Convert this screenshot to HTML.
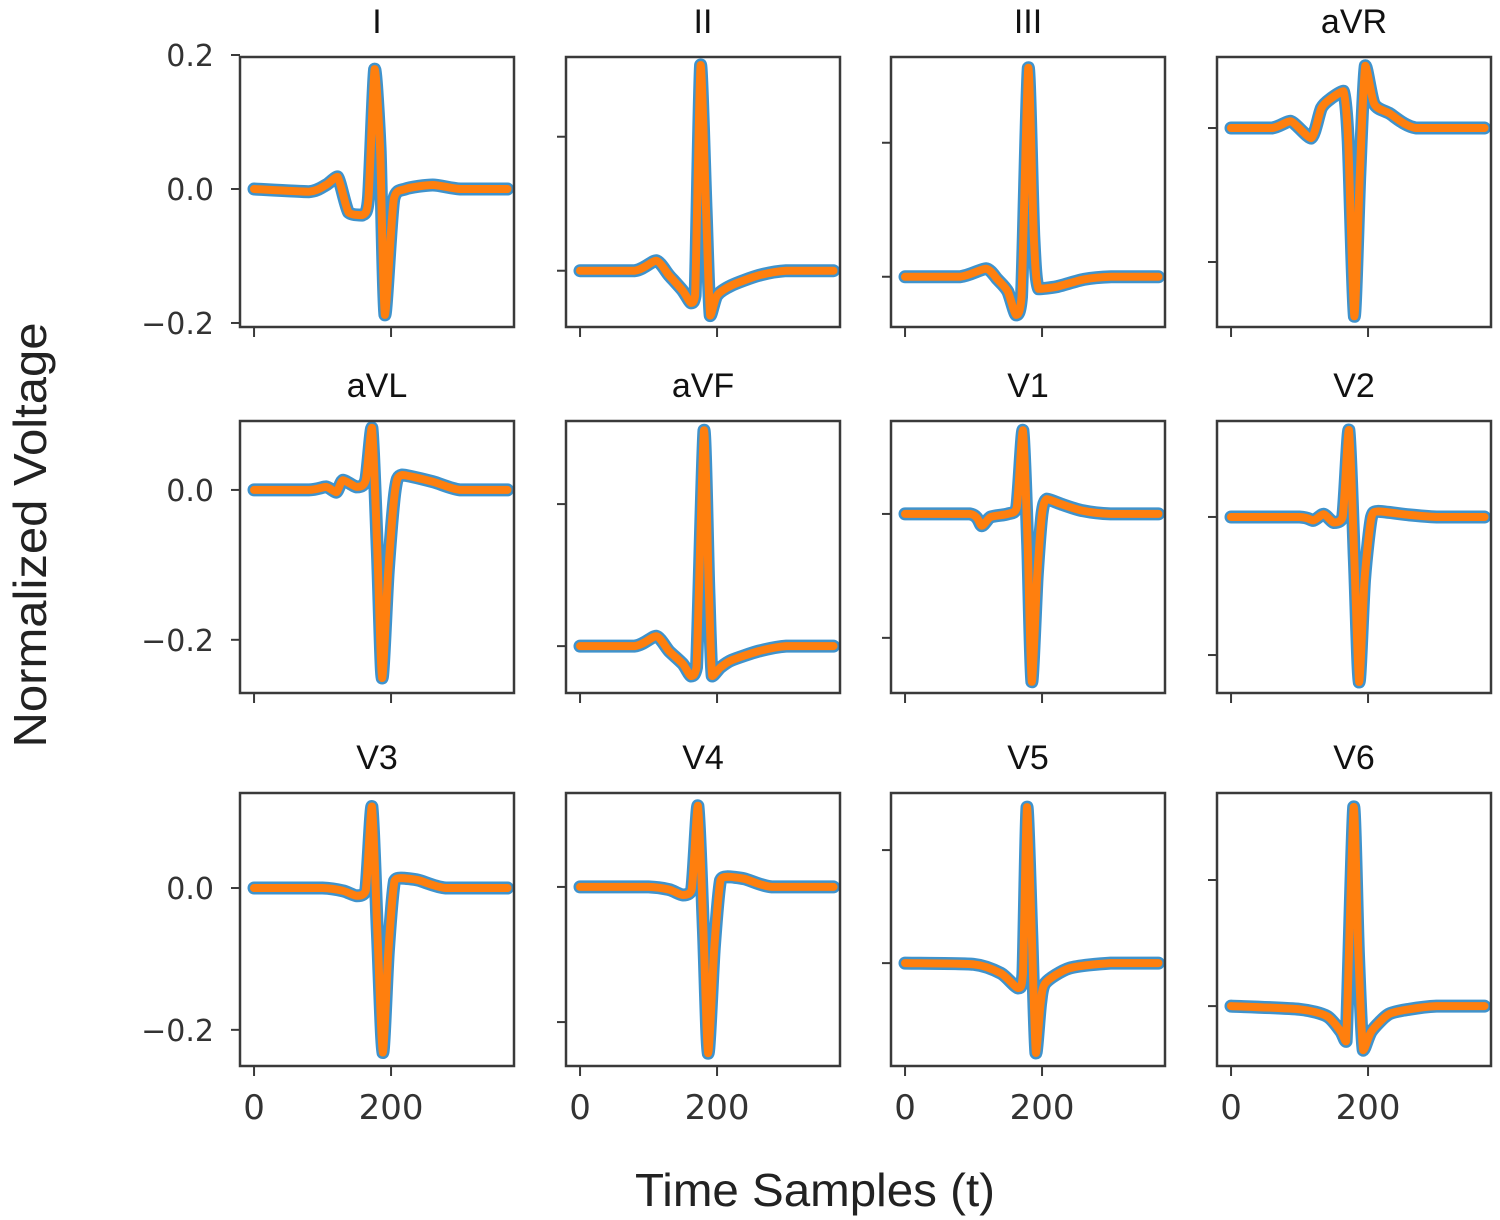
<!DOCTYPE html>
<html><head><meta charset="utf-8"><style>
html,body{margin:0;padding:0;background:#fff;}
svg{display:block;font-family:"DejaVu Sans","Liberation Sans",sans-serif;}
</style></head><body>
<svg id="chart" width="1500" height="1220" viewBox="0 0 1500 1220" xmlns="http://www.w3.org/2000/svg">
<text x="0" y="0" transform="translate(46,535) rotate(-90)" text-anchor="middle" font-size="46" fill="#222" font-family="Liberation Sans, sans-serif" textLength="425" lengthAdjust="spacingAndGlyphs">Normalized Voltage</text>
<text x="815" y="1206" text-anchor="middle" font-size="46" fill="#222" font-family="Liberation Sans, sans-serif" textLength="360" lengthAdjust="spacingAndGlyphs">Time Samples (t)</text>
</svg>
<script>
const leadNames = ["I","II","III","aVR","aVL","aVF","V1","V2","V3","V4","V5","V6"];
const xTicks = [0, 200];
const leadTimes = [
 [0,80,105,122,138,158,167,176,184,191,204,221,261,301,370],
 [0,80,111,130,150,162,168,176,184,190,200,221,261,301,370],
 [0,80,118,135,150,162,170,180,188,195,221,261,301,370],
 [0,60,87,117,132,147,164,171,180,188,196,209,231,270,370],
 [0,80,105,120,130,150,163,172,180,187,196,206,216,261,301,370],
 [0,80,111,130,150,162,170,181,188,193,205,221,261,301,370],
 [0,95,112,125,150,163,172,179,185,193,200,207,230,260,300,370],
 [0,100,120,135,150,163,172,180,187,195,205,215,260,300,370],
 [0,100,130,150,163,172,180,188,196,205,215,240,280,370],
 [0,100,130,150,163,172,180,187,196,205,215,240,280,370],
 [0,100,140,165,172,178,185,191,198,205,240,300,370],
 [0,100,140,160,168,179,186,193,205,230,260,300,370]
];
const leadValues = [
 [0,-0.004,0.006,0.018,-0.035,-0.039,-0.015,0.179,0.06,-0.188,-0.015,0,0.006,0,0],
 [0,0,0.015,-0.007,-0.03,-0.048,-0.037,0.307,0.09,-0.067,-0.037,-0.022,-0.007,0,0],
 [0,0,0.012,-0.004,-0.022,-0.057,-0.03,0.312,0.06,-0.018,-0.015,-0.004,0,0],
 [0,0,0.01,-0.015,0.03,0.045,0.055,-0.02,-0.281,-0.07,0.093,0.036,0.022,0,0],
 [0,0,0.004,-0.003,0.013,0.004,0.013,0.083,-0.08,-0.251,-0.107,0,0.02,0.011,0,0],
 [0,0,0.014,-0.007,-0.025,-0.042,-0.03,0.304,0.08,-0.042,-0.03,-0.02,-0.007,0,0],
 [0,0,-0.019,-0.005,0,0.01,0.135,-0.05,-0.271,-0.1,0,0.024,0.015,0.005,0,0],
 [0,0,-0.005,0.004,-0.008,0,0.126,-0.06,-0.239,-0.09,0,0.008,0.003,0,0],
 [0,0,-0.004,-0.011,-0.004,0.115,-0.06,-0.232,-0.09,0.01,0.014,0.011,0,0],
 [0,0,-0.004,-0.012,-0.004,0.12,-0.06,-0.246,-0.09,0.01,0.015,0.012,0,0],
 [0,-0.002,-0.018,-0.044,-0.02,0.276,0.05,-0.159,-0.07,-0.035,-0.009,0,0],
 [0,-0.005,-0.016,-0.04,-0.056,0.316,0.08,-0.07,-0.04,-0.013,-0.005,0,0]
];
const yMax = [0.197,0.319,0.328,0.106, 0.092,0.317,0.15,0.139, 0.134,0.139,0.301,0.338];
const yMin = [-0.206,-0.084,-0.075,-0.297, -0.271,-0.066,-0.289,-0.255, -0.251,-0.265,-0.182,-0.095];
const yTicks = [[0.2,0,-0.2],[0.2,0],[0.2,0],[0,-0.2],[0,-0.2],[0.2,0],[0,-0.2],[0,-0.2],[0,-0.2],[0,-0.2],[0.2,0],[0.2,0]];

const NS="http://www.w3.org/2000/svg";
const svg=document.getElementById('chart');
const colL=[240,566,891,1217], rowT=[57,421,793], rowB=[327,693,1066], PW=274;
const X0=-20.5, X1=379.5;
function mk(tag,attrs,parent){const e=document.createElementNS(NS,tag);for(const k in attrs)e.setAttribute(k,attrs[k]);(parent||svg).appendChild(e);return e;}
function fmt(v){if(Math.abs(v)<1e-9)return "0.0";return (v<0?"\u2212":"")+Math.abs(v).toFixed(1);}
function smoothPath(pts){
  let d="M"+pts[0][0].toFixed(1)+","+pts[0][1].toFixed(1);
  for(let i=0;i<pts.length-1;i++){
    const p0=pts[Math.max(0,i-1)],p1=pts[i],p2=pts[i+1],p3=pts[Math.min(pts.length-1,i+2)];
    const t=0.12;
    const lo=Math.min(p1[1],p2[1]), hi=Math.max(p1[1],p2[1]);
    const cl=v=>Math.max(lo,Math.min(hi,v));
    const c1=[p1[0]+(p2[0]-p0[0])*t,cl(p1[1]+(p2[1]-p0[1])*t)];
    const c2=[p2[0]-(p3[0]-p1[0])*t,cl(p2[1]-(p3[1]-p1[1])*t)];
    d+=" C"+c1[0].toFixed(1)+","+c1[1].toFixed(1)+" "+c2[0].toFixed(1)+","+c2[1].toFixed(1)+" "+p2[0].toFixed(1)+","+p2[1].toFixed(1);
  }
  return d;
}
leadNames.forEach((name,i)=>{
  const r=Math.floor(i/4), c=i%4;
  const L=colL[c], T=rowT[r], B=rowB[r];
  const xs=t=>L+(t-X0)/(X1-X0)*PW;
  const ys=v=>B-(v-yMin[i])/(yMax[i]-yMin[i])*(B-T);
  const g=mk('g',{});
  
  
  const title=mk('text',{x:L+PW/2,y:T-24,'text-anchor':'middle','font-size':'34',fill:'#111','font-family':'Liberation Sans, sans-serif'},g);
  title.textContent=name;
  
  
  const pts=leadTimes[i].map((t,k)=>[xs(t),ys(leadValues[i][k])]);
  const d=smoothPath(pts);
  const blue=mk('path',{d:d,fill:'none',stroke:'#2a87c8','stroke-width':'13','stroke-linejoin':'round','stroke-linecap':'round','stroke-opacity':'0.9'},g);
  
  
  const orange=mk('path',{d:d,fill:'none',stroke:'#ff7f0e','stroke-width':'8','stroke-linejoin':'round','stroke-linecap':'round'},g);
  
  
  const frame=mk('rect',{x:L,y:T,width:PW,height:B-T,fill:'none',stroke:'#3a3a3a','stroke-width':'2.5'},g);
  
  
  yTicks[i].forEach(v=>{
    const y=ys(v);
    const tk=mk('line',{x1:L-9,x2:L,y1:y,y2:y,stroke:'#3a3a3a','stroke-width':'2'},g);
    
    
    if(c===0){
      const tl=mk('text',{x:L-26,y:y+11,'text-anchor':'end','font-size':'30',fill:'#333'},g);
      tl.textContent=fmt(v);
      
      
    }
  });
  xTicks.forEach(t=>{
    const x=xs(t);
    const tk=mk('line',{x1:x,x2:x,y1:B,y2:B+10,stroke:'#3a3a3a','stroke-width':'2'},g);
    
    
    if(r===2){
      const tl=mk('text',{x:x,y:B+53,'text-anchor':'middle','font-size':'34',fill:'#333'},g);
      tl.textContent=String(t);
      
      
    }
  });
});
</script>
</body></html>
